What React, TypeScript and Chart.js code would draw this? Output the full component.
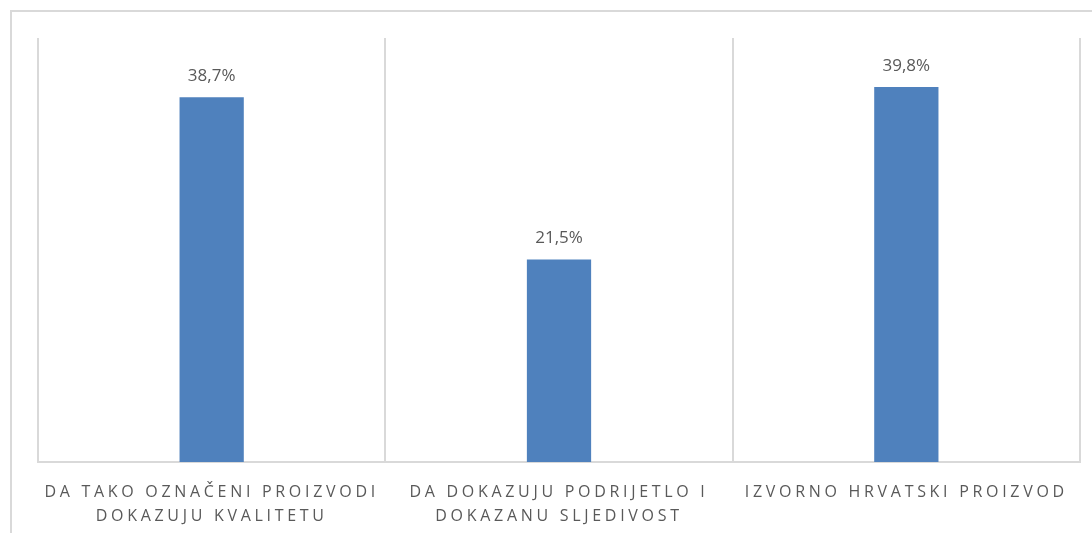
import React, { useEffect, useRef } from "react";
import { Chart, registerables } from "chart.js";

Chart.register(...registerables);

const categories: string[][] = [
  ["DA TAKO OZNAČENI PROIZVODI", "DOKAZUJU KVALITETU"],
  ["DA DOKAZUJU PODRIJETLO I", "DOKAZANU SLJEDIVOST"],
  ["IZVORNO HRVATSKI PROIZVOD"],
];
const values: number[] = [38.7, 21.5, 39.8];
const yMin = 0;
const yMax = 45;

const FONT = "'Open Sans', 'DejaVu Sans', sans-serif";
const TEXT_COLOR = "#595959";
const GRID_COLOR = "#d9d9d9";
const BAR_COLOR = "#4f81bd";

const formatValue = (v: number) => v.toFixed(1).replace(".", ",") + "%";

const spacingPlugin = {
  id: "spacing",
  beforeDraw(chart: any) {
    (chart.ctx as any).letterSpacing = "3.7px";
  },
  beforeDatasetsDraw(chart: any) {
    (chart.ctx as any).letterSpacing = "0px";
  },
};

const valueLabelPlugin = {
  id: "valueLabels",
  afterDatasetsDraw(chart: any) {
    const ctx = chart.ctx;
    const meta = chart.getDatasetMeta(0);
    ctx.save();
    (ctx as any).letterSpacing = "0px";
    ctx.font = `17px ${FONT}`;
    ctx.fillStyle = TEXT_COLOR;
    ctx.textAlign = "center";
    ctx.textBaseline = "alphabetic";
    meta.data.forEach((el: any, i: number) => {
      ctx.fillText(formatValue(values[i]), el.x, el.y - 16);
    });
    ctx.restore();
  },
};

export default function App() {
  const canvasRef = useRef<HTMLCanvasElement | null>(null);

  useEffect(() => {
    if (!canvasRef.current) return;
    const chart = new Chart(canvasRef.current, {
      type: "bar",
      data: {
        labels: categories,
        datasets: [
          {
            data: values,
            backgroundColor: BAR_COLOR,
            borderWidth: 0,
            barPercentage: 0.185,
            categoryPercentage: 1,
          },
        ],
      },
      options: {
        responsive: false,
        animation: false,
        devicePixelRatio: 1,
        layout: { padding: { left: 38, right: 12, top: 38, bottom: 0 } },
        plugins: {
          legend: { display: false },
          tooltip: { enabled: false },
        },
        scales: {
          x: {
            grid: {
              display: true,
              offset: true,
              color: GRID_COLOR,
              lineWidth: 2,
              drawTicks: false,
            },
            border: { display: true, color: GRID_COLOR, width: 2 },
            ticks: {
              color: TEXT_COLOR,
              font: { family: FONT, size: 16, lineHeight: 1.5 },
              padding: 18,
              maxRotation: 0,
              minRotation: 0,
              autoSkip: false,
            },
            afterFit: (s: any) => {
              s.height = 71;
            },
          },
          y: {
            display: false,
            min: yMin,
            max: yMax,
          },
        },
      },
      plugins: [spacingPlugin, valueLabelPlugin],
    });
    return () => chart.destroy();
  }, []);

  return (
    <div
      style={{
        position: "fixed",
        left: 0,
        top: 0,
        width: 1092,
        height: 533,
        background: "#ffffff",
        overflow: "hidden",
      }}
    >
      <div
        style={{
          position: "absolute",
          left: 10,
          top: 10,
          width: 1090,
          height: 530,
          borderLeft: `2px solid ${GRID_COLOR}`,
          borderTop: `2px solid ${GRID_COLOR}`,
          boxSizing: "border-box",
        }}
      />
      <canvas
        ref={canvasRef}
        width={1092}
        height={533}
        style={{ position: "absolute", left: 0, top: 0, width: 1092, height: 533 }}
      />
    </div>
  );
}
